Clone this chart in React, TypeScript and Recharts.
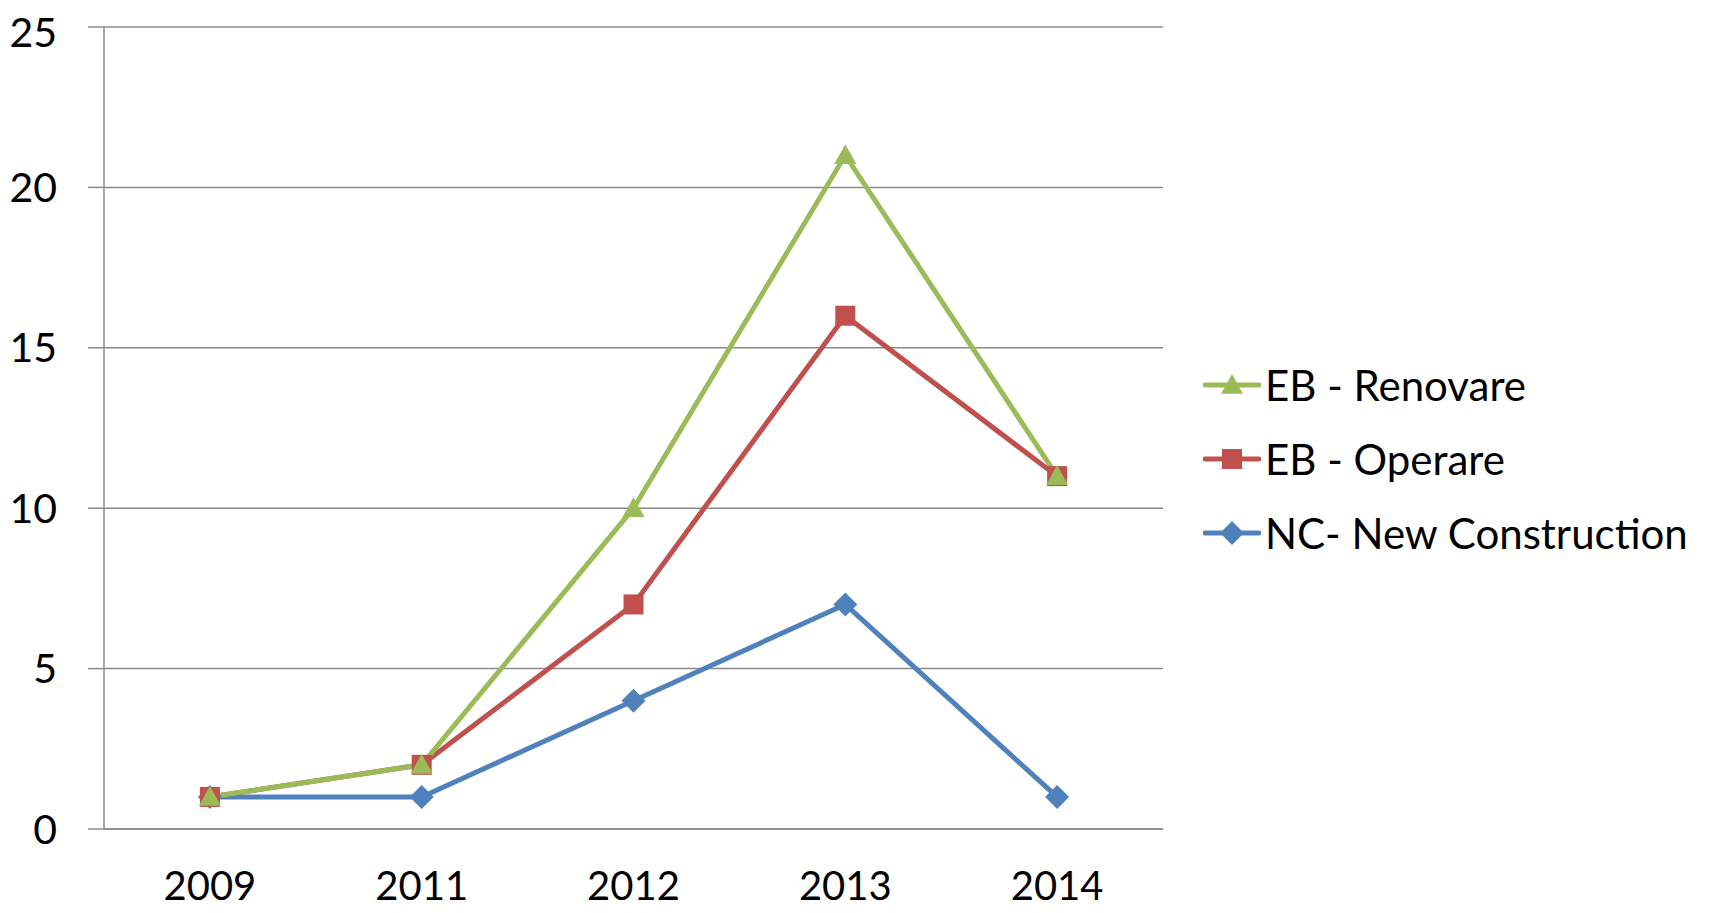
import { LineChart, Line, XAxis, YAxis, CartesianGrid, Legend } from 'recharts';

const years = ['2009', '2011', '2012', '2013', '2014'];
const newConstruction = [1, 1, 4, 7, 1];
const operare = [1, 2, 7, 16, 11];
const renovare = [1, 2, 10, 21, 11];
const yTicks = [0, 5, 10, 15, 20, 25];
const boundaryTicks = [0, 1, 2, 3, 4, 5];

const chartData = years.map((year, i) => ({
  year,
  nc: newConstruction[i],
  op: operare[i],
  ren: renovare[i],
}));

const legendItems = [
  { label: 'EB - Renovare', color: '#9BBB59', shape: 'triangle' },
  { label: 'EB - Operare', color: '#C0504D', shape: 'square' },
  { label: 'NC- New Construction', color: '#4F81BD', shape: 'diamond' },
];

const FONT = 'Lato, "Liberation Sans", sans-serif';
const AXIS_GRAY = '#8a8a8a';

const Marker = ({ cx, cy, shape, color }: { cx: number; cy: number; shape: string; color: string }) => {
  if (shape === 'triangle') {
    const s = 11;
    return <polygon points={`${cx},${cy - s} ${cx + s},${cy + s * 0.8} ${cx - s},${cy + s * 0.8}`} fill={color} />;
  }
  if (shape === 'square') {
    return <rect x={cx - 10} y={cy - 10} width={20} height={20} fill={color} />;
  }
  return <polygon points={`${cx},${cy - 12} ${cx + 12},${cy} ${cx},${cy + 12} ${cx - 12},${cy}`} fill={color} />;
};

const dotFor = (shape: string, color: string) => (props: any) => {
  const { cx, cy, index } = props;
  return <Marker key={`${shape}-${index}`} cx={cx} cy={cy} shape={shape} color={color} />;
};

const LegendContent = () => (
  <div style={{ fontFamily: FONT, fontSize: 42, color: '#000' }}>
    {legendItems.map(item => (
      <div key={item.label} style={{ display: 'flex', alignItems: 'center', height: 74 }}>
        <svg width={58} height={30} style={{ marginRight: 4 }}>
          <line x1={2} y1={15} x2={56} y2={15} stroke={item.color} strokeWidth={5} strokeLinecap="round" />
          <Marker cx={29} cy={15} shape={item.shape} color={item.color} />
        </svg>
        <span style={{ whiteSpace: 'nowrap' }}>{item.label}</span>
      </div>
    ))}
  </div>
);

export default function App() {
  return (
    <div style={{ width: 1700, height: 905, background: '#fff' }}>
      <LineChart width={1700} height={905} data={chartData} margin={{ top: 19, right: 545, bottom: 8, left: 0 }}>
        <CartesianGrid horizontal vertical={false} stroke={AXIS_GRAY} strokeWidth={1.5} />
        <XAxis
          xAxisId={0}
          type="number"
          domain={[0, 5]}
          ticks={boundaryTicks}
          tick={false}
          tickSize={15}
          height={15}
          stroke={AXIS_GRAY}
          strokeWidth={1.5}
        />
        <XAxis
          xAxisId="labels"
          dataKey="year"
          scale="band"
          axisLine={false}
          tickLine={false}
          tickSize={0}
          tickMargin={28}
          height={61}
          tick={{ fill: '#000', fontSize: 40, fontFamily: FONT }}
        />
        <YAxis
          domain={[0, 25]}
          ticks={yTicks}
          width={96}
          tickSize={16}
          tickMargin={31}
          stroke={AXIS_GRAY}
          strokeWidth={1.5}
          tick={{ fill: '#000', fontSize: 41, fontFamily: FONT }}
        />
        <Legend
          layout="vertical"
          align="center"
          verticalAlign="middle"
          wrapperStyle={{ left: 1195, top: 340, width: 500 }}
          content={LegendContent}
        />
        <Line
          xAxisId="labels"
          dataKey="nc"
          stroke="#4F81BD"
          strokeWidth={5}
          dot={dotFor('diamond', '#4F81BD')}
          activeDot={false}
          isAnimationActive={false}
        />
        <Line
          xAxisId="labels"
          dataKey="op"
          stroke="#C0504D"
          strokeWidth={5}
          dot={dotFor('square', '#C0504D')}
          activeDot={false}
          isAnimationActive={false}
        />
        <Line
          xAxisId="labels"
          dataKey="ren"
          stroke="#9BBB59"
          strokeWidth={5}
          dot={dotFor('triangle', '#9BBB59')}
          activeDot={false}
          isAnimationActive={false}
        />
      </LineChart>
    </div>
  );
}
